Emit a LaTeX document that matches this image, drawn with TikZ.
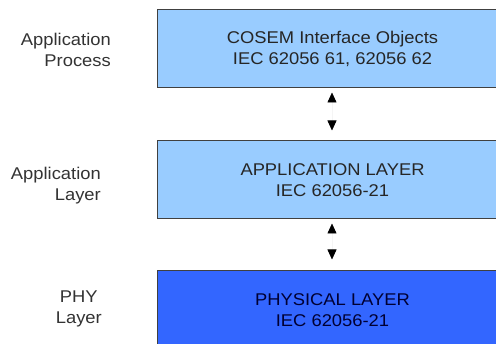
\documentclass[tikz,border=0pt]{standalone}
\usepackage{fontspec}
\setmainfont{Liberation Sans}[FakeStretch=1.08]
\usetikzlibrary{arrows.meta, calc}
\definecolor{lightlayer}{HTML}{99CCFF}
\definecolor{darklayer}{HTML}{3366FF}
\definecolor{labelgray}{HTML}{333333}

\begin{document}
\begin{tikzpicture}[x=1pt, y=-1pt,
        layerbox/.style={draw=black!75, line width=1pt, minimum width=380pt, minimum height=78pt,
            align=center, inner sep=0pt, text=black!85, font=\fontsize{17}{21}\selectfont},
        sidelabel/.style={anchor=east, align=right, inner sep=0pt, text=labelgray,
            font=\fontsize{17}{21}\selectfont},
        updown/.style={draw=black!4, line width=0.6pt,
            {Triangle[black, length=10pt, width=9pt]}-{Triangle[black, length=10pt, width=9pt]}}]
            \clip (0,0) rectangle (496,344);
            \fill[white] (0,0) rectangle (496,344);
            % layers
            \node[layerbox, fill=lightlayer, anchor=west] (cosem) at (157,49) {\hspace*{-30pt}COSEM Interface Objects\\\hspace*{-30pt}IEC 62056 61, 62056 62};
            \node[layerbox, fill=lightlayer, anchor=west] (applayer) at (157,180) {\hspace*{-30pt}APPLICATION LAYER\\\hspace*{-30pt}IEC 62056-21};
            \node[layerbox, fill=darklayer, anchor=west, text=black!80!blue] (phylayer) at (157,310) {\hspace*{-30pt}PHYSICAL LAYER\\\hspace*{-30pt}IEC 62056-21};
            % side labels
            \node[sidelabel] (proclabel) at (111,50) {Application\\Process};
            \node[sidelabel] (applabel) at (101,186) {Application\\Layer};
            \node[sidelabel, align=center] (phylabel) at (102,309) {PHY\\Layer};
            % links
            \draw[updown] ([yshift=-4pt]cosem.south -| 332,0) -- ([yshift=10pt]applayer.north -| 332,0);
            \draw[updown] ([yshift=-4pt]applayer.south -| 332,0) -- ([yshift=11pt]phylayer.north -| 332,0);
        \end{tikzpicture}
\end{document}
